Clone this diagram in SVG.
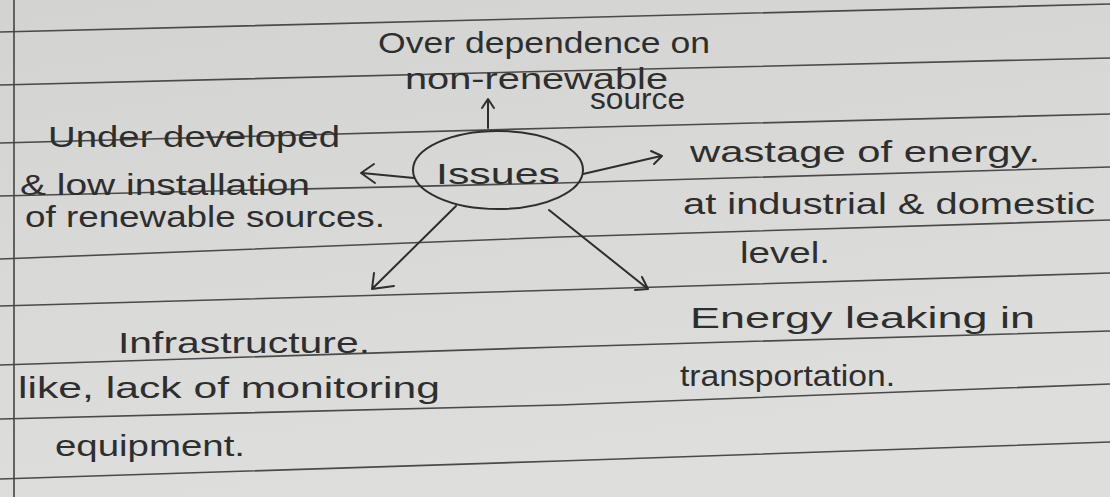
<svg xmlns="http://www.w3.org/2000/svg" width="1110" height="497" viewBox="0 0 1110 497">
  <defs>
    <linearGradient id="paper" x1="0" y1="0" x2="0.3" y2="1">
      <stop offset="0" stop-color="#d3d3d1"/>
      <stop offset="1" stop-color="#dededc"/>
    </linearGradient>
    <style>
      .rule { fill: none; stroke: #4a4a4a; stroke-width: 1.6; }
      .margin { fill: none; stroke: #444; stroke-width: 1.6; }
      .ink { font-family: "Liberation Sans", "DejaVu Sans", sans-serif; fill: #2e2e2e; font-size: 30px; }
      .pen { fill: none; stroke: #2e2e2e; stroke-width: 2; stroke-linecap: round; stroke-linejoin: round; }
    </style>
  </defs>

  <rect x="0" y="0" width="1110" height="497" fill="url(#paper)"/>

  <g id="paper-lines">
    <polyline class="rule" points="0,32 560,18 1110,4"/>
    <polyline class="rule" points="0,85 560,71 1110,58"/>
    <polyline class="rule" points="0,143 560,128 1110,114"/>
    <polyline class="rule" points="0,196 560,183 1110,167"/>
    <polyline class="rule" points="0,259 560,237 1110,220"/>
    <polyline class="rule" points="0,306 560,290 1110,273"/>
    <polyline class="rule" points="0,365 560,347 1110,331"/>
    <polyline class="rule" points="0,419 560,405 1110,384"/>
    <polyline class="rule" points="0,479 560,461 1110,442"/>
    <line class="margin" x1="14" y1="0" x2="14" y2="497"/>
  </g>

  <g id="issues">
    <ellipse class="pen" cx="498" cy="170" rx="85" ry="39"/>
    <text class="ink" x="436" y="184" font-size="36" textLength="124" lengthAdjust="spacingAndGlyphs">Issues</text>
  </g>

  <g id="over-dependence">
    <text class="ink" x="378" y="53" textLength="332" lengthAdjust="spacingAndGlyphs">Over dependence on</text>
    <text class="ink" x="405" y="89" font-size="26" textLength="263" lengthAdjust="spacingAndGlyphs">non-renewable</text>
    <text class="ink" x="590" y="109" font-size="26" textLength="95" lengthAdjust="spacingAndGlyphs">source</text>
  </g>

  <g id="under-developed">
    <text class="ink" x="48" y="147" textLength="292" lengthAdjust="spacingAndGlyphs">Under developed</text>
    <text class="ink" x="20" y="195" textLength="290" lengthAdjust="spacingAndGlyphs">&amp; low installation</text>
    <text class="ink" x="25" y="227" textLength="360" lengthAdjust="spacingAndGlyphs">of renewable sources.</text>
  </g>

  <g id="wastage">
    <text class="ink" x="690" y="162" font-size="34" textLength="350" lengthAdjust="spacingAndGlyphs">wastage of energy.</text>
    <text class="ink" x="683" y="214" font-size="34" textLength="412" lengthAdjust="spacingAndGlyphs">at industrial &amp; domestic</text>
    <text class="ink" x="740" y="263" font-size="34" textLength="90" lengthAdjust="spacingAndGlyphs">level.</text>
  </g>

  <g id="energy-leaking">
    <text class="ink" x="690" y="328" font-size="34" textLength="345" lengthAdjust="spacingAndGlyphs">Energy leaking in</text>
    <text class="ink" x="680" y="386" textLength="215" lengthAdjust="spacingAndGlyphs">transportation.</text>
  </g>

  <g id="infrastructure">
    <text class="ink" x="118" y="353" font-size="34" textLength="252" lengthAdjust="spacingAndGlyphs">Infrastructure.</text>
    <text class="ink" x="18" y="398" textLength="422" lengthAdjust="spacingAndGlyphs">like, lack of monitoring</text>
    <text class="ink" x="55" y="456" textLength="190" lengthAdjust="spacingAndGlyphs">equipment.</text>
  </g>

  <g id="connectors">
    <path class="pen" d="M488,128 L488,100 M482,108 L488,99 L494,108"/>
    <path class="pen" d="M414,178 L362,173 M374,164 L361,173 L375,183"/>
    <path class="pen" d="M583,174 L661,156 M651,151 L662,156 L654,164"/>
    <path class="pen" d="M456,206 L373,288 M374,273 L372,289 L394,286"/>
    <path class="pen" d="M549,210 L648,289 M642,277 L648,289 L635,290"/>
  </g>
</svg>
